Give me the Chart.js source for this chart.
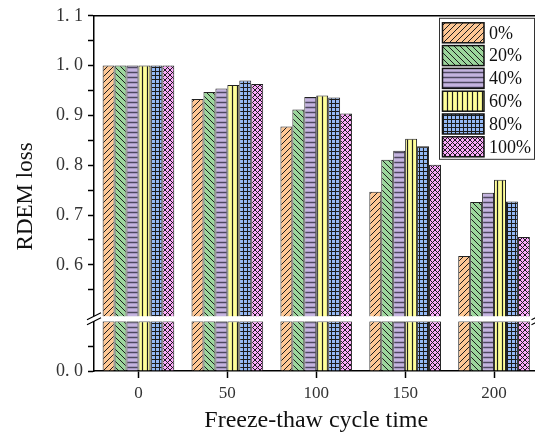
<!DOCTYPE html>
<html>
<head>
<meta charset="utf-8">
<script src="https://cdn.jsdelivr.net/npm/chart.js@4.4.1/dist/chart.umd.min.js"></script>
<style>
  html, body { margin: 0; padding: 0; background: #fff; overflow: hidden; }
  canvas { display: block; }
</style>
</head>
<body>
<canvas id="rdem" width="542" height="436"></canvas>
<script>
// RDEM loss vs freeze-thaw cycles, broken y axis (0–0.1 | 0.5–1.1)
const cycles = ["0", "50", "100", "150", "200"];
const seriesNames = ["0%", "20%", "40%", "60%", "80%", "100%"];

const loss0   = [1.000, 0.933, 0.878, 0.747, 0.618];
const loss20  = [1.000, 0.947, 0.912, 0.811, 0.726];
const loss40  = [1.000, 0.954, 0.937, 0.829, 0.745];
const loss60  = [1.000, 0.961, 0.940, 0.853, 0.771];
const loss80  = [1.000, 0.970, 0.936, 0.838, 0.727];
const loss100 = [1.000, 0.963, 0.904, 0.801, 0.656];
const allLoss = [loss0, loss20, loss40, loss60, loss80, loss100];

// tick values of the two axis segments
const topTicks = [0.55, 0.6, 0.65, 0.7, 0.75, 0.8, 0.85, 0.9, 0.95, 1.0, 1.05, 1.1];
const bottomTicks = [0, 0.05];

const TOP_MIN = 0.487, TOP_MAX = 1.1, BREAK_AT = 0.497;
const LOW_MIN = 0, LOW_MAX = 0.1;

const FONT = "'Liberation Serif', 'Times New Roman', serif";

// fill patterns
function hatch(bg, kind, size){
  const c = document.createElement("canvas");
  c.width = c.height = size;
  const g = c.getContext("2d");
  g.fillStyle = bg;
  g.fillRect(0, 0, size, size);
  g.strokeStyle = "#1c1c1c";
  g.lineWidth = 1;
  g.beginPath();
  if (kind === "fwd" || kind === "cross"){
    g.moveTo(0, size); g.lineTo(size, 0);
    g.moveTo(-1, 1); g.lineTo(1, -1);
    g.moveTo(size - 1, size + 1); g.lineTo(size + 1, size - 1);
  }
  if (kind === "back" || kind === "cross"){
    g.moveTo(0, 0); g.lineTo(size, size);
    g.moveTo(size - 1, -1); g.lineTo(size + 1, 1);
    g.moveTo(-1, size - 1); g.lineTo(1, size + 1);
  }
  if (kind === "horiz"){
    g.strokeStyle = "#4e4860";
    g.lineWidth = 1.5;
    g.moveTo(0, size / 2); g.lineTo(size, size / 2);
  }
  if (kind === "vert"){
    g.lineWidth = 1.2;
    g.moveTo(size / 2, 0); g.lineTo(size / 2, size);
  }
  if (kind === "grid"){
    g.moveTo(0, size - 0.5); g.lineTo(size, size - 0.5);
    g.moveTo(size - 0.5, 0); g.lineTo(size - 0.5, size);
  }
  g.stroke();
  return g.createPattern(c, "repeat");
}

const fills = [
  hatch("#fec794", "fwd", 6),
  hatch("#9cd69c", "back", 6),
  hatch("#c4b3df", "horiz", 5),
  hatch("#ffff99", "vert", 5),
  hatch("#94b9f5", "grid", 4),
  hatch("#fba9fb", "cross", 5)
];

const datasets = [];
allLoss.forEach((vals, i) => {
  datasets.push({
    label: seriesNames[i], data: vals, yAxisID: "yTop", stack: "s" + i,
    base: TOP_MIN, backgroundColor: fills[i], borderColor: "#222", borderWidth: 1
  });
});
allLoss.forEach((vals, i) => {
  datasets.push({
    label: seriesNames[i], data: vals.map(v => Math.min(v, LOW_MAX)), yAxisID: "yBot", stack: "s" + i,
    base: LOW_MIN, backgroundColor: fills[i], borderColor: "#222", borderWidth: 1
  });
});

const fmt = v => {
  const major = Math.abs(v * 10 - Math.round(v * 10)) < 1e-6;
  return major ? v.toFixed(1).replace(".", ". ") : "";
};

const yCommon = {
  type: "linear", position: "left", stack: "y", stacked: false,
  grid: { drawOnChartArea: false, tickLength: 6, tickWidth: 1.5, color: "#000" },
  border: { display: true, color: "#000", width: 1.5 },
  ticks: { color: "#333", font: { family: FONT, size: 18 }, padding: 5, autoSkip: false, callback: fmt },
  afterFit: s => { s.width = 94; }
};

// white gap, break marks, frame, y title, legend
const decor = {
  id: "decor",
  afterDatasetsDraw(chart){
    const { ctx, chartArea: a, scales } = chart;
    const y1 = scales.yTop.getPixelForValue(BREAK_AT);
    const y2 = scales.yTop.bottom;
    ctx.save();
    ctx.fillStyle = "#fff";
    ctx.fillRect(a.left - 3, y1, a.right - a.left + 10, y2 - y1);
    ctx.strokeStyle = "#000";
    ctx.lineWidth = 1.2;
    for (const x of [a.left, a.right]){
      ctx.beginPath();
      ctx.moveTo(x - 7, y1 + 3.5); ctx.lineTo(x + 7, y1 - 3.5);
      ctx.moveTo(x - 7, y2 + 3.5); ctx.lineTo(x + 7, y2 - 3.5);
      ctx.stroke();
    }
    ctx.restore();
  },
  afterDraw(chart){
    const { ctx, chartArea: a } = chart;
    ctx.save();
    ctx.strokeStyle = "#000";
    ctx.lineWidth = 1.5;
    ctx.beginPath();
    ctx.moveTo(a.left, a.top); ctx.lineTo(a.right, a.top);
    ctx.stroke();

    // y axis title
    ctx.fillStyle = "#111";
    ctx.font = "23px " + FONT;
    ctx.textAlign = "center";
    ctx.textBaseline = "middle";
    ctx.translate(26, (a.top + a.bottom) / 2 + 3);
    ctx.rotate(-Math.PI / 2);
    ctx.fillText("RDEM loss", 0, 0);
    ctx.restore();

    // legend
    const lx = a.right - 99.5, ly = a.top + 2, lw = 95, lh = 141;
    ctx.save();
    ctx.fillStyle = "#fff";
    ctx.fillRect(lx, ly, lw, lh);
    ctx.strokeStyle = "#333";
    ctx.lineWidth = 1;
    ctx.strokeRect(lx + 0.5, ly + 0.5, lw, lh);
    ctx.font = "18px " + FONT;
    ctx.textBaseline = "middle";
    ctx.textAlign = "left";
    seriesNames.forEach((name, i) => {
      const sy = ly + 5 + i * 22.8;
      ctx.fillStyle = chart.data.datasets[i].backgroundColor;
      ctx.fillRect(lx + 3.5, sy, 41.5, 20);
      ctx.strokeStyle = "#111";
      ctx.lineWidth = 1.5;
      ctx.strokeRect(lx + 3.5, sy, 41.5, 20);
      ctx.fillStyle = "#111";
      ctx.fillText(name, lx + 50, sy + 11);
    });
    ctx.restore();
  }
};

new Chart(document.getElementById("rdem"), {
  type: "bar",
  data: { labels: cycles, datasets },
  plugins: [decor],
  options: {
    responsive: false,
    animation: false,
    devicePixelRatio: 1,
    layout: { padding: { top: 14, right: 3.5, left: 0, bottom: 0 } },
    datasets: { bar: { barPercentage: 1, categoryPercentage: 0.806 } },
    plugins: { legend: { display: false }, tooltip: { enabled: false } },
    scales: {
      x: {
        type: "category", offset: true, z: 1,
        grid: { offset: false, drawOnChartArea: false, tickLength: 7, tickWidth: 1.5, color: "#000" },
        border: { display: true, color: "#000", width: 1.5 },
        ticks: { color: "#333", font: { family: FONT, size: 17 }, padding: 5, maxRotation: 0 },
        title: { display: true, text: "Freeze-thaw cycle time", color: "#111",
                 font: { family: FONT, size: 24 }, padding: { top: 0, bottom: 1 } },
        afterFit: s => { s.height = 65; }
      },
      yTop: Object.assign({}, yCommon, {
        min: TOP_MIN, max: TOP_MAX, weight: 2, stackWeight: TOP_MAX - TOP_MIN,
        afterBuildTicks: s => { s.ticks = topTicks.map(v => ({ value: v })); }
      }),
      yBot: Object.assign({}, yCommon, {
        min: LOW_MIN, max: LOW_MAX, weight: 1, stackWeight: LOW_MAX - LOW_MIN,
        afterBuildTicks: s => { s.ticks = bottomTicks.map(v => ({ value: v })); }
      })
    }
  }
});
</script>
</body>
</html>
